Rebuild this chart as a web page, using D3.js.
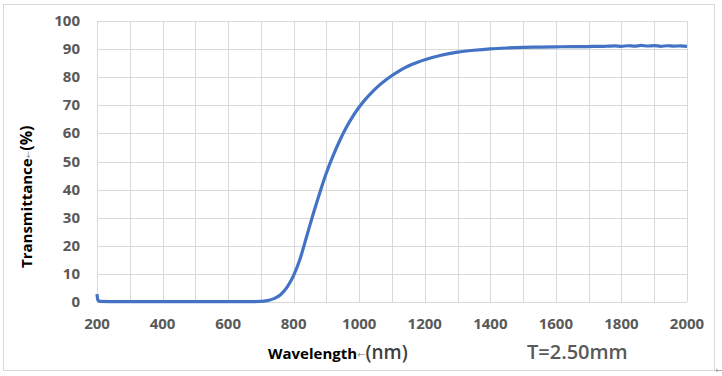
<!DOCTYPE html>
<html>
<head>
<meta charset="utf-8">
<script src="https://cdn.jsdelivr.net/npm/d3@7"></script>
<style>
  body { margin: 0; background: #fff; }
  svg { display: block; }
</style>
</head>
<body>
<div id="chart"></div>
<script>
// wavelength (nm) and transmittance (%)
const wavelength = [200, 202, 205, 210, 250, 300, 400, 500, 600, 650, 700, 720, 740, 760, 780,
  800, 820, 840, 860, 880, 900, 920, 940, 960, 980, 1000, 1020, 1040, 1060, 1080, 1100,
  1120, 1140, 1160, 1180, 1200, 1250, 1300, 1350, 1400, 1450, 1500, 1550, 1600, 1650, 1700,
  1720, 1740, 1760, 1780, 1800, 1820, 1840, 1860, 1880, 1900, 1920, 1940, 1960, 1980, 2000];
const transmittance = [2.8, 1.0, 0.4, 0.2, 0.15, 0.1, 0.1, 0.1, 0.1, 0.1, 0.2, 0.5, 1.2, 2.6, 5.3,
  9.5, 15.5, 23.5, 31.5, 39.0, 46.0, 52.0, 57.3, 62.0, 66.0, 69.4, 72.3, 74.8, 77.0, 78.9, 80.6,
  82.1, 83.4, 84.5, 85.4, 86.2, 87.8, 88.9, 89.6, 90.1, 90.4, 90.6, 90.7, 90.8, 90.9, 90.9,
  91.0, 90.95, 91.05, 91.15, 91.0, 91.2, 91.05, 91.3, 91.1, 91.25, 91.0, 91.2, 91.05, 91.15, 91.0];

const xTicks = [200, 400, 600, 800, 1000, 1200, 1400, 1600, 1800, 2000];
const yTicks = [0, 10, 20, 30, 40, 50, 60, 70, 80, 90, 100];

const width = 722, height = 376;
const margin = { left: 97, right: 35, top: 21, bottom: 74 };

const svg = d3.select('#chart').append('svg')
  .attr('width', width)
  .attr('height', height);

// outer chart frame
svg.append('rect')
  .attr('x', 3.5).attr('y', 4.5)
  .attr('width', 711).attr('height', 366)
  .attr('fill', 'none')
  .attr('stroke', '#d9d9d9');

svg.append('text')
  .attr('x', 715).attr('y', 373)
  .attr('font-family', 'DejaVu Sans')
  .attr('font-size', 9)
  .attr('fill', '#999')
  .text('←');

const x = d3.scaleLinear().domain([200, 2000]).range([margin.left, width - margin.right]);
const y = d3.scaleLinear().domain([0, 100]).range([height - margin.bottom, margin.top]);

const g = svg.append('g');

// grid: every 100 nm vertically, every 10 % horizontally
g.append('g').selectAll('line')
  .data(d3.range(200, 2001, 100))
  .enter().append('line')
    .attr('x1', d => Math.round(x(d)) + 0.5)
    .attr('x2', d => Math.round(x(d)) + 0.5)
    .attr('y1', y(100))
    .attr('y2', y(0))
    .attr('stroke', '#d9d9d9');

g.append('g').selectAll('line')
  .data(yTicks)
  .enter().append('line')
    .attr('x1', x(200))
    .attr('x2', x(2000))
    .attr('y1', d => Math.round(y(d)) + 0.5)
    .attr('y2', d => Math.round(y(d)) + 0.5)
    .attr('stroke', '#d9d9d9');

const tickFont = { family: 'Open Sans', size: 15, weight: 700, color: '#595959' };

g.append('g').selectAll('text')
  .data(yTicks)
  .enter().append('text')
    .attr('x', 80)
    .attr('y', d => y(d) + 5)
    .attr('text-anchor', 'end')
    .attr('font-family', tickFont.family)
    .attr('font-size', tickFont.size)
    .attr('font-weight', tickFont.weight)
    .attr('fill', tickFont.color)
    .text(d => d);

g.append('g').selectAll('text')
  .data(xTicks)
  .enter().append('text')
    .attr('x', d => x(d))
    .attr('y', 329)
    .attr('text-anchor', 'middle')
    .attr('font-family', tickFont.family)
    .attr('font-size', tickFont.size)
    .attr('font-weight', tickFont.weight)
    .attr('fill', tickFont.color)
    .text(d => d);

// the spectrum
const points = wavelength.map((w, i) => [w, transmittance[i]]);
const line = d3.line()
  .x(d => x(d[0]))
  .y(d => y(d[1]))
  .curve(d3.curveMonotoneX);

g.append('path')
  .datum(points)
  .attr('d', line)
  .attr('fill', 'none')
  .attr('stroke', '#4472c4')
  .attr('stroke-width', 3.2)
  .attr('stroke-linejoin', 'round');

// axis titles
const xt = svg.append('text')
  .attr('x', 268)
  .attr('y', 359)
  .attr('font-family', 'Open Sans');
xt.append('tspan').attr('font-size', 15).attr('font-weight', 700).attr('fill', '#000').text('Wavelength');
xt.append('tspan').attr('font-family', 'DejaVu Sans').attr('font-size', 10).attr('fill', '#999').attr('dy', -1).text('←');
xt.append('tspan').attr('font-size', 19).attr('font-weight', 600).attr('fill', '#404040').attr('dy', 1).text('(nm)');

svg.append('text')
  .attr('x', 527)
  .attr('y', 359)
  .attr('font-family', 'Open Sans')
  .attr('font-size', 20)
  .attr('font-weight', 600)
  .attr('fill', '#595959')
  .text('T=2.50mm');

const yt = svg.append('text')
  .attr('transform', 'translate(32,268) rotate(-90)')
  .attr('font-family', 'Open Sans');
yt.append('tspan').attr('font-size', 15).attr('font-weight', 700).attr('fill', '#000').text('Transmittance');
yt.append('tspan').attr('font-family', 'DejaVu Sans').attr('font-size', 9).attr('fill', '#999').attr('dy', -1).text('←');
yt.append('tspan').attr('font-size', 16).attr('font-weight', 700).attr('fill', '#000').attr('dy', 1).text('(%)');
</script>
</body>
</html>
